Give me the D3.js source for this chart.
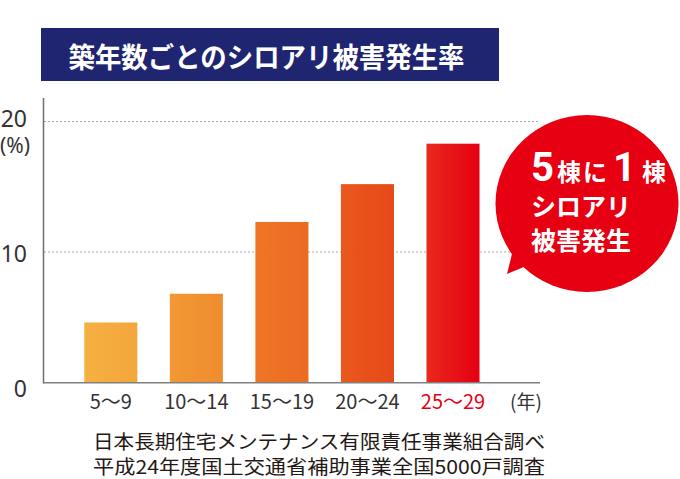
<!DOCTYPE html>
<html><head><meta charset="utf-8">
<script src="https://cdn.jsdelivr.net/npm/d3@7"></script>
<style>
html,body{margin:0;padding:0;background:#fff;}
svg{display:block;font-family:"Noto Sans CJK JP","Noto Sans",sans-serif;}
</style></head>
<body>
<svg id="chart" width="680" height="479"></svg>
<script>
// ---- data ----
const title = "築年数ごとのシロアリ被害発生率";
const categories = ["5〜9", "10〜14", "15〜19", "20〜24", "25〜29"];
const values = [4.6, 6.8, 12.3, 15.2, 18.3];
const yTicks = [0, 10, 20];
const yUnit = "(%)";
const xUnit = "(年)";
const bubbleLines = ["シロアリ", "被害発生"];
const notes = ["日本長期住宅メンテナンス有限責任事業組合調べ", "平成24年度国土交通省補助事業全国5000戸調査"];

// ---- styles ----
const barColors = [["#f5b040", "#f3a63b"], ["#f29834", "#ef8c2e"], ["#ee7627", "#eb6a22"], ["#ea581d", "#e64918"], ["#e9281c", "#e50012"]];

const svg = d3.select("#chart");
const defs = svg.append("defs");

const x = d3.scaleBand().domain(categories).range([41.5, 522.3]).paddingInner(0.38).paddingOuter(0.5);
const y = d3.scaleLinear().domain([0, 20]).range([382.5, 121.5]);

// title box
svg.append("rect").attr("x", 41).attr("y", 28).attr("width", 458).attr("height", 53).attr("fill", "#1f2570");
svg.append("text").attr("x", 266.5).attr("y", 68).attr("text-anchor", "middle")
  .attr("fill", "#fff").attr("font-size", 28).attr("font-weight", 700)
  .attr("textLength", 396).attr("lengthAdjust", "spacingAndGlyphs").text(title);

// gridlines
svg.append("g").selectAll("line").data(yTicks.filter(d => d > 0)).join("line")
  .attr("x1", 44).attr("x2", 540).attr("y1", d => y(d)).attr("y2", d => y(d))
  .attr("stroke", "#a8a8a8").attr("stroke-width", 1).attr("stroke-dasharray", "2,2");

// gradients & bars
barColors.forEach((c, i) => {
  const g = defs.append("linearGradient").attr("id", "bg" + i).attr("x1", "0").attr("x2", "1").attr("y1", "0").attr("y2", "0");
  g.append("stop").attr("offset", "0").attr("stop-color", c[0]);
  g.append("stop").attr("offset", "1").attr("stop-color", c[1]);
});
svg.append("g").selectAll("rect").data(values).join("rect")
  .attr("x", (d, i) => x(categories[i]))
  .attr("width", x.bandwidth())
  .attr("y", d => y(d))
  .attr("height", d => y(0) - y(d))
  .attr("fill", (d, i) => `url(#bg${i})`);

// axes lines
svg.append("line").attr("x1", 43.5).attr("x2", 43.5).attr("y1", 98).attr("y2", 383.5).attr("stroke", "#6e6e6e").attr("stroke-width", 1.5);
svg.append("line").attr("x1", 43).attr("x2", 540).attr("y1", 382.8).attr("y2", 382.8).attr("stroke", "#808080").attr("stroke-width", 1.5);

// y tick labels
const numFont = "'Noto Sans','Noto Sans CJK JP',sans-serif";
svg.append("g").selectAll("text").data(yTicks).join("text")
  .attr("x", 27).attr("y", d => y(d) + (d === 0 ? 14 : (d === 10 ? 10 : 5)))
  .attr("text-anchor", "end").attr("font-size", 23).attr("fill", "#333")
  .attr("font-family", numFont)
  .text(d => d);
svg.append("text").attr("x", 15).attr("y", 153).attr("text-anchor", "middle").attr("font-size", 21).attr("fill", "#333")
  .attr("font-family", numFont).text(yUnit);

// x labels
svg.append("g").selectAll("text").data(categories).join("text")
  .attr("x", d => x(d) + x.bandwidth() / 2).attr("y", 409)
  .attr("text-anchor", "middle").attr("font-size", 20)
  .attr("fill", (d, i) => i === categories.length - 1 ? "#e60012" : "#333")
  .text(d => d);
svg.append("text").attr("x", 526).attr("y", 409).attr("text-anchor", "middle").attr("font-size", 19).attr("fill", "#333").text(xUnit);

// speech bubble
svg.append("path").attr("d", "M514,246 L507,274 L536,262 Z").attr("fill", "#e60012");
svg.append("ellipse").attr("cx", 587).attr("cy", 203.5).attr("rx", 91.5).attr("ry", 88.5).attr("fill", "#e60012");
const l1 = svg.append("text").attr("x", 531).attr("y", 181).attr("fill", "#fff").attr("font-weight", 700);
[["5", 40, 0], ["棟", 24, 3], ["に", 24, 2], ["1", 40, 6], ["棟", 24, 6]].forEach(p => {
  l1.append("tspan").attr("dx", p[2]).attr("font-size", p[1])
    .attr("font-family", p[1] > 30 ? "'Liberation Sans Narrow','Roboto','Noto Sans',sans-serif" : null)
    .text(p[0]);
});
svg.append("g").selectAll("text").data(bubbleLines).join("text")
  .attr("x", 531).attr("y", (d, i) => 216 + i * 34)
  .attr("fill", "#fff").attr("font-weight", 700).attr("font-size", 25).text(d => d);

// notes
svg.append("g").selectAll("text").data(notes).join("text")
  .attr("x", 93).attr("y", (d, i) => 449 + i * 25)
  .attr("font-size", 19).attr("fill", "#231815")
  .attr("textLength", 452).attr("lengthAdjust", "spacingAndGlyphs")
  .text(d => d);
</script>
</body></html>
